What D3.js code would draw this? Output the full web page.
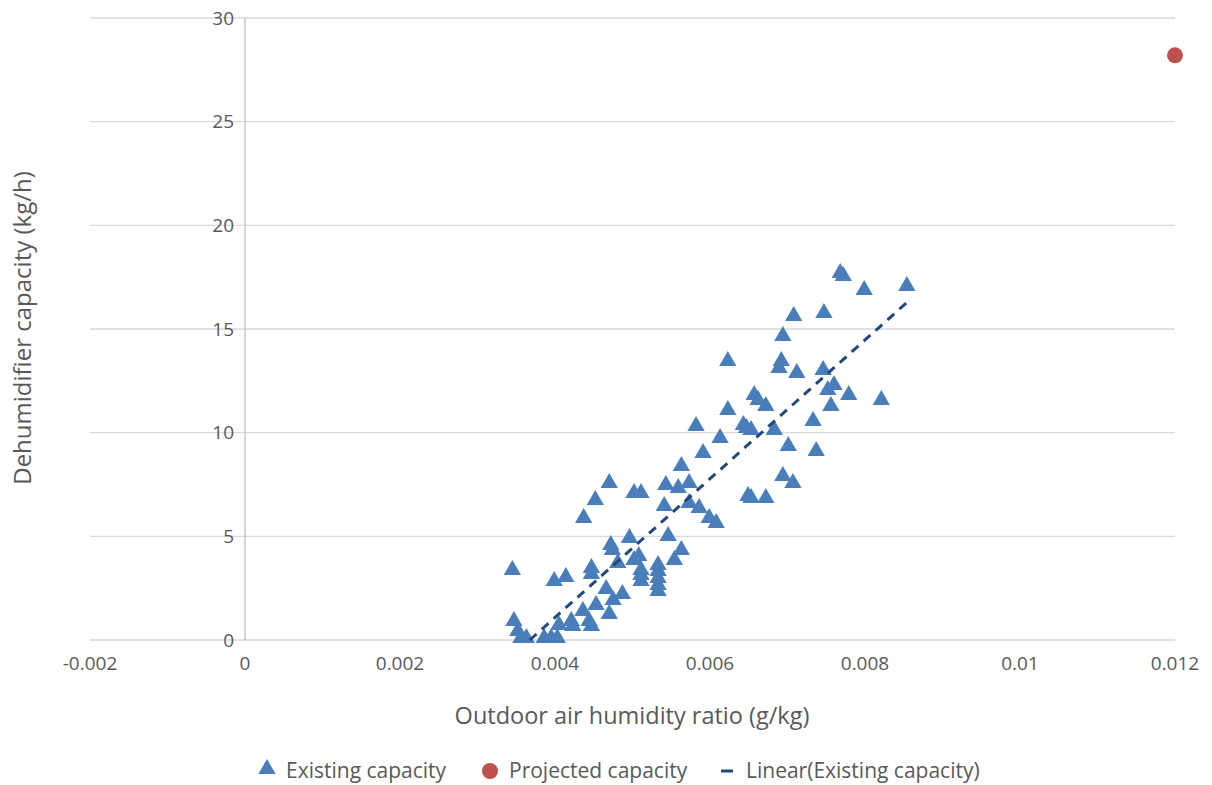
<!DOCTYPE html>
<html>
<head>
<meta charset="utf-8">
<script src="https://cdn.jsdelivr.net/npm/d3@7"></script>
<style>
  body { margin: 0; background: #fff; }
  svg text { font-family: "Open Sans", "Noto Sans", sans-serif; }
</style>
</head>
<body>
<svg id="chart" width="1212" height="785"></svg>
<script>
'use strict';

// existing capacity readings (humidity ratio, capacity)
var existingX = [
    0.00345, 0.00347, 0.00352, 0.00356, 0.00363, 0.00386, 0.00395, 0.00403,
    0.00399, 0.00414, 0.00421, 0.00423, 0.00405, 0.00436, 0.00437, 0.00447,
    0.00447, 0.00444, 0.00447, 0.00453, 0.00452, 0.00466, 0.00470, 0.00470,
    0.00475, 0.00472, 0.00474, 0.00481, 0.00487, 0.00496, 0.00502, 0.00511,
    0.00502, 0.00508, 0.00511, 0.00511, 0.00511, 0.00533, 0.00533, 0.00533,
    0.00533, 0.00533, 0.00541, 0.00543, 0.00546, 0.00554, 0.00559, 0.00563,
    0.00563, 0.00573, 0.00573, 0.00586, 0.00599, 0.00608, 0.00582, 0.00591,
    0.00613, 0.00623, 0.00623, 0.00643, 0.00647, 0.00653, 0.00657, 0.00662,
    0.00672, 0.00683, 0.00649, 0.00653, 0.00672, 0.00694, 0.00707, 0.00701,
    0.00737, 0.00733, 0.00692, 0.00689, 0.00694, 0.00712, 0.00708, 0.00747,
    0.00746, 0.00752, 0.00760, 0.00779, 0.00756, 0.00821, 0.00768, 0.00772,
    0.00799, 0.00854
];
var existingY = [
    3.28, 0.82, 0.34, 0.0, 0.0, 0.0, 0.0, 0.0,
    2.75, 2.94, 0.82, 0.58, 0.63, 1.30, 5.79, 3.38,
    3.09, 0.82, 0.58, 1.59, 6.66, 2.36, 7.48, 1.16,
    1.83, 4.49, 4.24, 3.62, 2.12, 4.82, 6.99, 6.99,
    3.76, 3.96, 3.28, 3.04, 2.75, 3.52, 3.23, 2.89,
    2.56, 2.27, 6.37, 7.38, 4.92, 3.76, 7.23, 8.30,
    4.24, 7.48, 6.51, 6.27, 5.79, 5.55, 10.23, 8.92,
    9.65, 11.00, 13.36, 10.27, 10.13, 10.03, 11.72, 11.48,
    11.19, 10.03, 6.85, 6.75, 6.75, 7.81, 7.48, 9.26,
    9.02, 10.47, 13.36, 13.02, 14.57, 12.78, 15.53, 15.68,
    12.93, 11.96, 12.20, 11.72, 11.19, 11.48, 17.60, 17.46,
    16.78, 16.98
];

var projectedX = [0.012];
var projectedY = [28.2];

var xTicks = [-0.002, 0, 0.002, 0.004, 0.006, 0.008, 0.01, 0.012];
var yTicks = [0, 5, 10, 15, 20, 25, 30];

var legendLabels = ["Existing capacity", "Projected capacity", "Linear(Existing capacity)"];

var blue = "#4a7ebb";
var red = "#c0504d";
var navy = "#1f497d";

var svg = d3.select("#chart");

var x = d3.scaleLinear().domain([-0.002, 0.012]).range([90, 1175]);
var y = d3.scaleLinear().domain([0, 30]).range([640, 18]);

// horizontal gridlines
svg.append("g")
    .selectAll("line")
    .data(yTicks)
  .enter().append("line")
    .attr("x1", x(-0.002))
    .attr("x2", x(0.012))
    .attr("y1", function(d) { return y(d); })
    .attr("y2", function(d) { return y(d); })
    .style("stroke", "#d9d9d9")
    .style("stroke-width", 1.3);

// vertical axis line at x = 0
svg.append("line")
    .attr("x1", x(0)).attr("x2", x(0))
    .attr("y1", y(30)).attr("y2", y(0))
    .style("stroke", "#bfbfbf")
    .style("stroke-width", 1.3);

// y tick labels
svg.append("g")
    .selectAll("text")
    .data(yTicks)
  .enter().append("text")
    .attr("x", x(0) - 11)
    .attr("y", function(d) { return y(d); })
    .attr("dy", "0.35em")
    .attr("text-anchor", "end")
    .style("font-size", "19px")
    .style("fill", "#595959")
    .text(function(d) { return d; });

// x tick labels
svg.append("g")
    .selectAll("text")
    .data(xTicks)
  .enter().append("text")
    .attr("x", function(d) { return x(d); })
    .attr("y", 670)
    .attr("text-anchor", "middle")
    .style("font-size", "19px")
    .style("fill", "#595959")
    .text(function(d) { return d; });

// axis titles
svg.append("text")
    .attr("x", 632).attr("y", 724)
    .attr("text-anchor", "middle")
    .style("font-size", "23.5px")
    .style("fill", "#595959")
    .text("Outdoor air humidity ratio (g/kg)");

svg.append("text")
    .attr("transform", "translate(31,328) rotate(-90)")
    .attr("text-anchor", "middle")
    .style("font-size", "24px")
    .style("fill", "#595959")
    .text("Dehumidifier capacity (kg/h)");

// least squares fit of the existing capacity
var n = existingX.length;
var mx = d3.mean(existingX), my = d3.mean(existingY);
var sxy = 0, sxx = 0;
for (var i = 0; i < n; i++) {
    sxy += (existingX[i] - mx) * (existingY[i] - my);
    sxx += (existingX[i] - mx) * (existingX[i] - mx);
}
var slope = sxy / sxx;
var intercept = my - slope * mx;
var fitX0 = Math.max(d3.min(existingX), -intercept / slope);
var fitX1 = d3.max(existingX);

var triangle = d3.symbol().type(d3.symbolTriangle).size(130);

// triangles
svg.append("g")
    .selectAll("path")
    .data(d3.range(n))
  .enter().append("path")
    .attr("d", triangle)
    .attr("transform", function(i) { return "translate(" + x(existingX[i]) + "," + (y(existingY[i]) - 2) + ")"; })
    .style("fill", blue);

// trend line
svg.append("line")
    .attr("x1", x(fitX0)).attr("y1", y(slope * fitX0 + intercept))
    .attr("x2", x(fitX1)).attr("y2", y(slope * fitX1 + intercept))
    .style("stroke", navy)
    .style("stroke-width", 3)
    .style("stroke-dasharray", "9,7");

// projected capacity
svg.append("g")
    .selectAll("circle")
    .data(projectedX)
  .enter().append("circle")
    .attr("cx", function(d) { return x(d); })
    .attr("cy", function(d, i) { return y(projectedY[i]); })
    .attr("r", 8)
    .style("fill", red);

// legend
var legendY = 771;
var legend = svg.append("g");
legend.append("path")
    .attr("d", triangle)
    .attr("transform", "translate(267," + (legendY - 2) + ")")
    .style("fill", blue);
legend.append("circle")
    .attr("cx", 490).attr("cy", legendY).attr("r", 8)
    .style("fill", red);
legend.append("line")
    .attr("x1", 721).attr("x2", 733)
    .attr("y1", legendY).attr("y2", legendY)
    .style("stroke", navy)
    .style("stroke-width", 3);

var legendX = [286, 509, 746];
legend.selectAll("text")
    .data(legendLabels)
  .enter().append("text")
    .attr("x", function(d, i) { return legendX[i]; })
    .attr("y", legendY)
    .attr("dy", "0.35em")
    .style("font-size", "21px")
    .style("fill", "#595959")
    .text(function(d) { return d; });
</script>
</body>
</html>
